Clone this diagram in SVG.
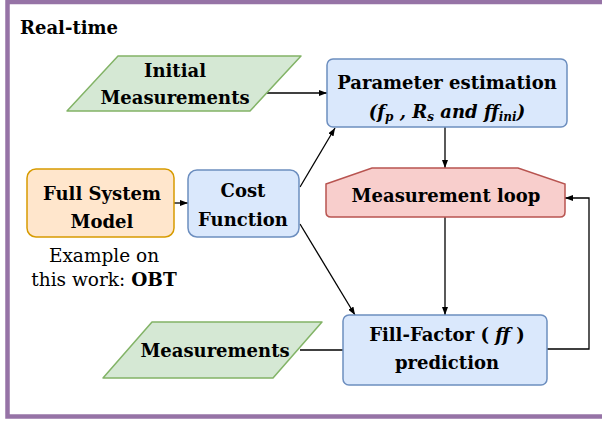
<svg xmlns="http://www.w3.org/2000/svg" width="602" height="422" viewBox="0 0 602 422">
<style>
text{font-family:"DejaVu Serif",serif;font-size:18px;fill:#000}
.b{font-weight:bold}
.r{font-size:18.5px}
.c{text-anchor:middle}
.sub{font-size:12px}
.blue{fill:#dae8fc;stroke:#6c8ebf;stroke-width:1.5}
.green{fill:#d5e8d4;stroke:#82b366;stroke-width:1.5}
.red{fill:#f8cecc;stroke:#b85450;stroke-width:1.5}
.orange{fill:#ffe6cc;stroke:#d79b00;stroke-width:1.5}
.ln{fill:none;stroke:#000;stroke-width:1.3}
</style>
<defs>
<marker id="ah" markerUnits="userSpaceOnUse" markerWidth="8" markerHeight="6" refX="8" refY="3" orient="auto">
<path d="M0,0 L8,3 L0,6 Z" fill="#000"/>
</marker>
</defs>
<rect x="7.5" y="2" width="600" height="414.5" fill="#fff" stroke="#9673a6" stroke-width="4.5"/>
<text class="b" x="20" y="34">Real-time</text>

<g id="connectors">
<path class="ln" d="M267,93 L327,93" marker-end="url(#ah)"/>
<path class="ln" d="M445,127 L445,168" marker-end="url(#ah)"/>
<path class="ln" d="M174,203 L188,203" marker-end="url(#ah)"/>
<path class="ln" d="M300,187 L335,128" marker-end="url(#ah)"/>
<path class="ln" d="M300,224 L355,315" marker-end="url(#ah)"/>
<path class="ln" d="M445,217 L445,315" marker-end="url(#ah)"/>
<path class="ln" d="M547,349 L589,349 L589,198 L565,198" marker-end="url(#ah)"/>
<path class="ln" d="M300,350 L343,350"/>
</g>

<g id="initial-measurements">
<path class="green" d="M118,56 L301,56 L250,111 L67,111 Z" stroke-linejoin="round"/>
<text class="b c" x="175" y="77">Initial</text>
<text class="b c" x="175" y="104">Measurements</text>
</g>

<g id="parameter-estimation">
<rect class="blue" x="327" y="59" width="240" height="68" rx="6"/>
<text class="b c" x="447" y="89">Parameter estimation</text>
<text class="b c" x="447" y="118" font-style="italic">(f<tspan class="sub" dy="3">p</tspan><tspan dy="-3"> , R</tspan><tspan class="sub" dy="3">s</tspan><tspan dy="-3"> and ff</tspan><tspan class="sub" dy="3">ini</tspan><tspan dy="-3">)</tspan></text>
</g>

<g id="measurement-loop">
<path class="red" d="M326,184 L372,168 L518,168 L565,184 L565,212 Q565,217 560,217 L331,217 Q326,217 326,212 Z"/>
<text class="b c" x="446" y="202">Measurement loop</text>
</g>

<g id="full-system-model">
<rect class="orange" x="27" y="169" width="147" height="68" rx="9"/>
<text class="b c" x="102" y="200">Full System</text>
<text class="b c" x="102" y="228">Model</text>
</g>

<g id="example-note">
<text class="r c" x="104" y="262">Example on</text>
<text class="r c" x="104" y="286">this work: <tspan class="b">OBT</tspan></text>
</g>

<g id="cost-function">
<rect class="blue" x="188" y="170" width="111" height="67" rx="9"/>
<text class="b c" x="243" y="197">Cost</text>
<text class="b c" x="243" y="226">Function</text>
</g>

<g id="fill-factor-prediction">
<rect class="blue" x="343" y="315" width="204" height="70" rx="6"/>
<text class="b c" x="447" y="341">Fill-Factor ( <tspan font-style="italic">ff</tspan> )</text>
<text class="b c" x="447" y="369">prediction</text>
</g>

<g id="measurements">
<path class="green" d="M152,322 L322,322 L273,378 L103,378 Z" stroke-linejoin="round"/>
<text class="b c" x="215" y="357">Measurements</text>
</g>
</svg>
